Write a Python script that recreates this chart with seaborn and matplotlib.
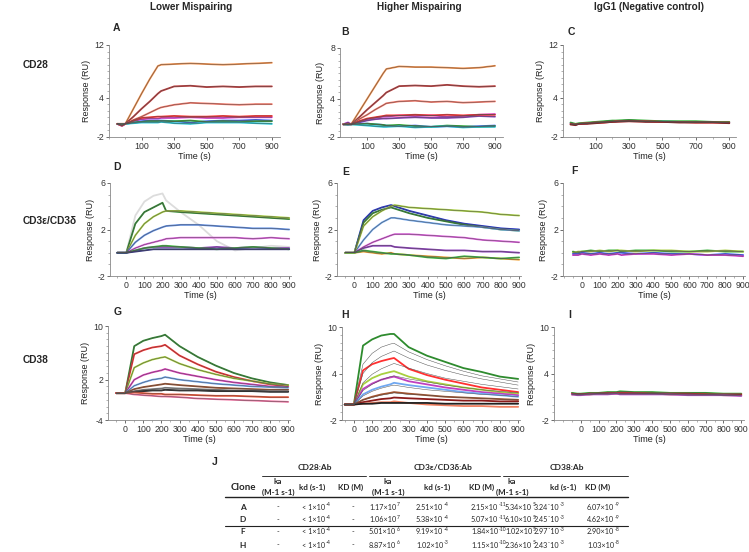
import pandas as pd
import matplotlib.pyplot as plt
import seaborn as sns
from matplotlib.ticker import MultipleLocator
from matplotlib.lines import Line2D

# ---- sensorgram data (RU) ----
TIME = [-50, -20, 0, 50, 100, 150, 200, 220, 300, 400, 500, 600, 700, 800, 900]

# A: CD28, lower mispairing
A_TRACES = [
    [0, 0, 0, 2.3, 4.6, 6.8, 8.8, 9.0, 9.1, 9.2, 9.1, 9.0, 9.1, 9.2, 9.3],
    [0, 0, 0, 1.1, 2.3, 3.4, 4.6, 5.0, 5.7, 5.8, 5.6, 5.7, 5.6, 5.7, 5.7],
    [0, 0, 0, 0.6, 1.1, 1.7, 2.3, 2.5, 2.9, 3.2, 3.1, 3.0, 2.9, 3.0, 3.0],
    [0, -0.2, 0, 0.4, 0.7, 0.8, 0.8, 0.9, 0.9, 1.0, 0.9, 0.9, 1.0, 1.0, 1.0],
    [0, -0.3, 0, 0.2, 0.4, 0.5, 0.5, 0.5, 0.4, 0.2, 0.4, 0.5, 0.5, 0.6, 0.5],
    [0, -0.1, 0, 0.2, 0.3, 0.4, 0.4, 0.4, 0.4, 0.5, 0.3, 0.4, 0.3, 0.4, 0.4],
    [0, -0.2, 0, 0.1, 0.2, 0.2, 0.2, 0.3, 0.1, 0.0, 0.2, 0.2, 0.2, 0.1, 0.0],
    [0, -0.3, 0, 0.5, 0.9, 1.0, 1.1, 1.1, 1.2, 1.1, 1.1, 1.2, 1.1, 1.2, 1.2],
]
A_COLORS = ["#f4904a", "#c03a3a", "#f87868", "#e040e0", "#4060ff", "#30b030", "#20c8d8", "#ff3030"]

# B: CD28, higher mispairing (drawn on the A scale, as in the source)
B_TRACES = [
    [0, 0, 0, 2.0, 4.0, 6.0, 8.0, 8.7, 9.1, 9.0, 9.0, 8.9, 8.8, 8.9, 9.2],
    [0, 0, 0, 1.1, 2.3, 3.4, 4.5, 5.0, 6.0, 6.1, 6.0, 6.2, 6.0, 5.9, 6.0],
    [0, 0, 0, 0.8, 1.5, 2.3, 3.0, 3.3, 3.6, 3.7, 3.5, 3.6, 3.4, 3.5, 3.6],
    [0, 0.3, 0, 0.4, 0.8, 1.0, 1.2, 1.2, 1.4, 1.3, 1.4, 1.2, 1.3, 1.5, 1.6],
    [0, 0.2, 0, 0.3, 0.6, 0.8, 0.9, 0.9, 1.0, 1.1, 1.0, 1.0, 1.1, 1.3, 1.2],
    [0, 0, 0, 0.1, 0.1, 0.0, -0.1, -0.2, -0.3, -0.2, -0.4, -0.3, -0.4, -0.3, -0.2],
    [0, 0, 0, 0.0, 0.1, 0.0, -0.1, -0.2, -0.1, -0.3, -0.4, -0.2, -0.3, -0.4, -0.3],
    [0, -0.1, 0, -0.1, -0.2, -0.3, -0.4, -0.4, -0.3, -0.5, -0.4, -0.3, -0.5, -0.4, -0.4],
    [0, 0, 0, 0.5, 0.9, 1.1, 1.3, 1.4, 1.4, 1.5, 1.4, 1.5, 1.4, 1.5, 1.5],
]
B_COLORS = ["#f4904a", "#c03a3a", "#f87868", "#e040e0", "#9040c0", "#4060ff", "#30b030", "#20c8d8", "#ff3030"]

# C: CD28, IgG1 control
C_TRACES = [
    [0.1, -0.1, 0, 0.1, 0.2, 0.3, 0.4, 0.4, 0.5, 0.4, 0.4, 0.3, 0.3, 0.3, 0.2],
    [0.2, 0.0, 0.1, 0.2, 0.3, 0.4, 0.5, 0.5, 0.6, 0.5, 0.4, 0.4, 0.4, 0.3, 0.3],
    [0.0, -0.1, 0, 0.1, 0.2, 0.2, 0.3, 0.4, 0.4, 0.4, 0.3, 0.3, 0.2, 0.2, 0.2],
    [-0.1, -0.2, 0, 0.0, 0.1, 0.2, 0.3, 0.3, 0.4, 0.3, 0.3, 0.2, 0.2, 0.2, 0.1],
]
C_COLORS = ["#4060ff", "#30b030", "#ff3030", "#8b1a1a"]

# D: CD3e/CD3d, lower mispairing
D_TRACES = [
    [0, 0, 0, 3.2, 4.4, 4.9, 5.1, 4.5, 3.5, 2.4, 1.0, 0.2, 0.4, 0.6, 0.5],
    [0, 0, 0, 2.5, 3.5, 3.9, 4.3, 3.6, 3.5, 3.4, 3.3, 3.2, 3.1, 3.0, 2.9],
    [0, 0, 0, 1.5, 2.5, 3.1, 3.5, 3.6, 3.6, 3.5, 3.4, 3.3, 3.2, 3.1, 3.0],
    [0, 0, 0, 0.9, 1.5, 1.9, 2.2, 2.3, 2.4, 2.4, 2.3, 2.2, 2.1, 2.1, 2.0],
    [0, 0, 0, 0.4, 0.7, 0.9, 1.1, 1.2, 1.3, 1.3, 1.3, 1.3, 1.2, 1.3, 1.2],
    [0, 0, 0, 0.2, 0.4, 0.5, 0.5, 0.5, 0.5, 0.4, 0.5, 0.4, 0.5, 0.4, 0.4],
    [0, 0, 0, 0.2, 0.4, 0.5, 0.6, 0.6, 0.5, 0.4, 0.3, 0.4, 0.5, 0.4, 0.3],
    [0, 0, 0, 0.1, 0.2, 0.3, 0.3, 0.3, 0.3, 0.3, 0.3, 0.3, 0.3, 0.3, 0.3],
]
D_COLORS = ["#dcdcdc", "#2e8b2e", "#a8d040", "#6090e8", "#e060e0", "#9040c0", "#40c040", "#303080"]

# E: CD3e/CD3d, higher mispairing
E_TRACES = [
    [0, 0, 0, 2.8, 3.6, 3.9, 4.1, 4.0, 3.6, 3.2, 2.8, 2.5, 2.3, 2.1, 2.0],
    [0, 0, 0, 2.6, 3.4, 3.7, 3.9, 3.8, 3.4, 3.0, 2.7, 2.4, 2.2, 2.0, 1.9],
    [0, 0, 0, 1.1, 2.0, 2.6, 3.0, 3.0, 2.8, 2.6, 2.4, 2.3, 2.2, 2.0, 1.9],
    [0, 0, 0, 2.3, 3.1, 3.6, 4.0, 4.1, 3.9, 3.8, 3.7, 3.6, 3.5, 3.3, 3.2],
    [0, 0, 0, 0.5, 0.9, 1.2, 1.5, 1.6, 1.6, 1.5, 1.4, 1.3, 1.1, 1.0, 0.9],
    [0, 0, 0, 0.4, 0.6, 0.6, 0.6, 0.5, 0.4, 0.3, 0.2, 0.2, 0.1, 0.1, 0.0],
    [0, 0, 0, 0.1, 0.0, -0.1, 0.0, -0.1, -0.2, -0.3, -0.4, -0.5, -0.4, -0.5, -0.6],
    [0, 0, 0, 0.2, 0.1, 0.0, -0.1, -0.1, -0.2, -0.4, -0.5, -0.3, -0.4, -0.5, -0.4],
]
E_COLORS = ["#2030d0", "#2e8b2e", "#70a8f0", "#a8d040", "#e060e0", "#9040c0", "#f0a030", "#40c040"]

# F: CD3e/CD3d, IgG1 control
F_TRACES = [
    [0.1, 0.0, 0.1, 0.2, 0.1, 0.2, 0.2, 0.1, 0.2, 0.2, 0.1, 0.1, 0.2, 0.1, 0.1],
    [0.0, 0.1, 0.1, 0.1, 0.2, 0.1, 0.2, 0.2, 0.1, 0.2, 0.2, 0.1, 0.1, 0.2, 0.1],
    [-0.1, -0.1, 0.0, -0.1, 0.0, -0.1, 0.0, 0.0, -0.1, 0.0, -0.1, -0.1, -0.2, -0.1, -0.2],
    [-0.2, -0.2, -0.1, -0.2, -0.1, -0.2, -0.1, -0.2, -0.1, -0.1, -0.2, -0.1, -0.2, -0.2, -0.3],
]
F_COLORS = ["#30b030", "#a8d040", "#4060ff", "#e040e0"]

# G: CD38, lower mispairing
G_TRACES = [
    [0, 0, 0, 7.0, 7.8, 8.2, 8.5, 8.7, 7.0, 5.4, 4.1, 3.0, 2.2, 1.6, 1.2],
    [0, 0, 0, 5.8, 6.4, 6.8, 7.0, 7.2, 5.6, 4.3, 3.2, 2.4, 1.8, 1.3, 1.0],
    [0, 0, 0, 3.8, 4.5, 5.0, 5.3, 5.4, 4.4, 3.5, 2.8, 2.2, 1.8, 1.4, 1.2],
    [0, 0, 0, 2.0, 2.7, 3.1, 3.4, 3.6, 3.0, 2.5, 2.0, 1.6, 1.3, 1.0, 0.9],
    [0, 0, 0, 1.1, 1.6, 2.0, 2.2, 2.4, 2.0, 1.7, 1.4, 1.2, 1.0, 0.9, 0.8],
    [0, 0, 0, 0.6, 0.9, 1.1, 1.3, 1.4, 1.2, 1.0, 0.8, 0.7, 0.6, 0.5, 0.5],
    [0, 0, 0, 0.3, 0.5, 0.6, 0.7, 0.8, 0.7, 0.6, 0.5, 0.4, 0.4, 0.3, 0.3],
    [0, 0, 0, 0.2, 0.3, 0.4, 0.4, 0.5, 0.4, 0.4, 0.3, 0.3, 0.3, 0.2, 0.2],
    [0, 0, 0, -0.2, -0.3, -0.4, -0.5, -0.5, -0.6, -0.8, -0.9, -1.0, -1.1, -1.2, -1.3],
    [0, 0, 0, 0.1, 0.0, -0.1, -0.1, -0.2, -0.2, -0.3, -0.4, -0.4, -0.5, -0.6, -0.6],
]
G_COLORS = ["#2e8b2e", "#ff3030", "#a8d040", "#e040c0", "#70a8f0", "#a0522d",
            "#909090", "#202020", "#f070a0", "#f05030"]

# H: CD38, higher mispairing
H_TRACES = [
    [0, 0, 0, 7.6, 8.4, 8.9, 9.1, 9.1, 7.4, 6.3, 5.5, 4.7, 4.2, 3.6, 3.3],
    [0, 0, 0, 4.4, 5.2, 5.6, 5.9, 6.0, 4.6, 3.8, 3.2, 2.7, 2.2, 1.9, 1.6],
    [0, 0, 0, 2.6, 3.4, 3.9, 4.2, 4.3, 3.6, 3.0, 2.6, 2.2, 1.9, 1.6, 1.4],
    [0, 0, 0, 2.0, 2.7, 3.2, 3.5, 3.6, 3.0, 2.6, 2.2, 1.9, 1.6, 1.4, 1.2],
    [0, 0, 0, 1.3, 1.9, 2.3, 2.6, 2.8, 2.5, 2.2, 1.9, 1.6, 1.4, 1.2, 1.0],
    [0, 0, 0, 0.6, 1.0, 1.3, 1.5, 1.6, 1.4, 1.2, 1.0, 0.9, 0.8, 0.7, 0.6],
    [0, 0, 0, 0.3, 0.5, 0.7, 0.8, 0.9, 0.8, 0.7, 0.6, 0.5, 0.5, 0.4, 0.4],
    [0, 0, 0, 0.1, 0.2, 0.3, 0.3, 0.4, 0.2, 0.0, -0.1, -0.2, -0.2, -0.3, -0.3],
    [0, 0, 0, 0.1, 0.1, 0.2, 0.2, 0.2, 0.2, 0.2, 0.1, 0.1, 0.1, 0.1, 0.1],
]
H_COLORS = ["#2e8b2e", "#ff3030", "#a8d040", "#c040c0", "#70a8f0", "#a0522d",
            "#8b1a1a", "#f08060", "#202020"]
H_FITS = [
    [0, 0, 0, 5.2, 6.6, 7.4, 7.8, 7.9, 6.8, 5.8, 5.0, 4.3, 3.7, 3.3, 2.9],
    [0, 0, 0, 4.0, 5.4, 6.2, 6.7, 6.9, 6.0, 5.1, 4.4, 3.8, 3.3, 2.9, 2.5],
    [0, 0, 0, 2.8, 3.9, 4.6, 5.1, 5.3, 4.7, 4.0, 3.4, 3.0, 2.6, 2.3, 2.0],
    [0, 0, 0, 1.8, 2.6, 3.2, 3.6, 3.7, 3.3, 2.9, 2.5, 2.2, 1.9, 1.7, 1.5],
    [0, 0, 0, 1.1, 1.7, 2.1, 2.4, 2.5, 2.2, 1.9, 1.7, 1.5, 1.3, 1.2, 1.0],
    [0, 0, 0, 0.6, 0.9, 1.2, 1.4, 1.5, 1.3, 1.2, 1.0, 0.9, 0.8, 0.7, 0.6],
]

# I: CD38, IgG1 control
I_TRACES = [
    [1.5, 1.4, 1.4, 1.5, 1.5, 1.6, 1.6, 1.7, 1.6, 1.6, 1.5, 1.5, 1.5, 1.4, 1.4],
    [1.4, 1.3, 1.3, 1.4, 1.4, 1.5, 1.5, 1.5, 1.5, 1.4, 1.4, 1.4, 1.3, 1.3, 1.3],
    [1.3, 1.3, 1.3, 1.3, 1.4, 1.4, 1.4, 1.4, 1.4, 1.4, 1.3, 1.3, 1.3, 1.2, 1.2],
    [1.3, 1.2, 1.2, 1.3, 1.3, 1.3, 1.4, 1.3, 1.3, 1.3, 1.3, 1.2, 1.2, 1.2, 1.1],
]
I_COLORS = ["#30b030", "#ff3030", "#8b1a1a", "#c050d0"]

# ---- kinetics table ("^" marks the exponent) ----
CLONES = ["A", "D", "F", "H"]
CD28_KA = ["-", "-", "-", "-"]
CD28_KD = ["< 1×10^-4"] * 4
CD28_KDM = ["-", "-", "-", "-"]
CD3_KA = ["1.17×10^7", "1.06×10^7", "5.01×10^6", "8.87×10^6"]
CD3_KD = ["2.51×10^-4", "5.38×10^-4", "9.19×10^-4", "1.02×10^-3"]
CD3_KDM = ["2.15×10^-11", "5.07×10^-11", "1.84×10^-10", "1.15×10^-10"]
CD38_KA = ["5.34×10^5", "6.10×10^5", "1.02×10^5", "2.36×10^5"]
CD38_KD = ["3.24´10^-3", "2.45´10^-3", "2.97´10^-3", "2.43´10^-3"]
CD38_KDM = ["6.07×10^-9", "4.62×10^-9", "2.90×10^-8", "1.03×10^-8"]
GROUPS = ["CD28:Ab", "CD3ε/CD3δ:Ab", "CD38:Ab"]

# ---- style ----
sns.set_style("ticks")
plt.rcParams["font.family"] = ["Liberation Sans", "DejaVu Sans"]

W, H = 749, 552
fig = plt.figure(figsize=(W / 100, H / 100), dpi=100)


def px_axes(l, t, r, b):
    return fig.add_axes([l / W, 1 - b / H, (r - l) / W, (b - t) / H])


def draw_panel(box, traces, colors, xlim, ylim, yticks, ylabels, xticks, fits=None):
    ax = px_axes(*box)
    rows = []
    for i, ys in enumerate(traces):
        for t, y in zip(TIME, ys):
            rows.append((t, y, f"c{i}"))
    df = pd.DataFrame(rows, columns=["time", "resp", "curve"])
    pal = {f"c{i}": c for i, c in enumerate(colors)}
    sns.lineplot(data=df, x="time", y="resp", hue="curve", palette=pal,
                 legend=False, lw=1.3, estimator=None, ax=ax)
    for ys in (traces if fits is None else fits):
        ax.plot(TIME, ys, color="#505050", lw=0.35)
    ax.set_xlim(*xlim)
    ax.set_ylim(*ylim)
    ax.set_yticks(yticks)
    ax.set_yticklabels(ylabels)
    ax.set_xticks(xticks)
    ax.xaxis.set_minor_locator(MultipleLocator(100 if xticks[0] == 100 else 50))
    ax.yaxis.set_minor_locator(MultipleLocator(1))
    ax.tick_params(labelsize=6.3, colors="#333333", length=2, width=0.5, pad=1.5)
    ax.tick_params(which="minor", length=1.2, width=0.4, colors="#777777")
    ax.set_xlabel("Time (s)", fontsize=6.5, color="#222222", labelpad=1)
    ax.set_ylabel("Response (RU)", fontsize=6.5, color="#222222", labelpad=2)
    sns.despine(ax=ax)
    for s in ("left", "bottom"):
        ax.spines[s].set_color("#888888")
        ax.spines[s].set_linewidth(0.6)
    return ax


X_ODD = [100, 300, 500, 700, 900]
X_ALL = [0, 100, 200, 300, 400, 500, 600, 700, 800, 900]

draw_panel((109, 45, 280, 137), A_TRACES, A_COLORS, (-100, 950), (-2, 12), [-2, 4, 12], ["-2", "4", "12"], X_ODD)
draw_panel((340, 48, 503, 137), B_TRACES, B_COLORS, (-70, 950), (-2, 12), [-2, 4, 12], ["-2", "4", "8"], X_ODD)
draw_panel((563, 45, 736, 137), C_TRACES, C_COLORS, (-95, 940), (-2, 12), [-2, 4, 12], ["-2", "4", "12"], X_ODD)
draw_panel((110, 183, 291, 276), D_TRACES, D_COLORS, (-90, 910), (-2, 6), [-2, 2, 6], ["-2", "2", "6"], X_ALL,
           fits=D_TRACES[1:])
draw_panel((337, 183, 521, 276), E_TRACES, E_COLORS, (-95, 910), (-2, 6), [-2, 2, 6], ["-2", "2", "6"], X_ALL)
draw_panel((563, 183, 745, 276), F_TRACES, F_COLORS, (-105, 910), (-2, 6), [-2, 2, 6], ["-2", "2", "6"], X_ALL)
draw_panel((108, 326, 290, 420), G_TRACES, G_COLORS, (-95, 910), (-4, 10), [-4, 2, 10], ["-4", "2", "10"], X_ALL)
draw_panel((342, 327, 520, 420), H_TRACES, H_COLORS, (-65, 910), (-2, 10), [-2, 4, 10], ["-2", "4", "10"], X_ALL,
           fits=H_FITS)
draw_panel((554, 327, 744, 420), I_TRACES, I_COLORS, (-150, 915), (-2, 10), [-2, 4, 10], ["-2", "4", "10"], X_ALL)

# ---- overlay for labels and the table (pixel coordinates) ----
ov = fig.add_axes([0, 0, 1, 1], zorder=-1)
ov.set_xlim(0, W)
ov.set_ylim(H, 0)
ov.axis("off")

for x, s in [(191, "Lower Mispairing"), (419, "Higher Mispairing"), (649, "IgG1 (Negative control)")]:
    ov.text(x, 7, s, ha="center", va="center", fontsize=7.2, fontweight="bold")
for y, s in [(65, "CD28"), (221, "CD3ε/CD3δ"), (360, "CD38")]:
    ov.text(23, y, s, ha="left", va="center", fontsize=7.3, fontweight="bold")
for x, y, s in [(113, 28, "A"), (341, 32, "B"), (568, 32, "C"), (113, 167, "D"), (342, 172, "E"),
                (571, 171, "F"), (114, 312, "G"), (341, 315, "H"), (568, 315, "I"), (212, 462, "J")]:
    ov.text(x, y, s, ha="left", va="center", fontsize=7.5, fontweight="bold")

TF = ["Lato", "DejaVu Sans"]
HEAD_X = [278, 312, 351, 388, 437, 482, 512, 563, 598]
VAL_X = [278, 302, 353, 369, 416, 471, 505, 534, 587]   # centre for "-", left edge otherwise
ROW_Y = [507, 520, 532, 545]
VAL_FS = 5.2

for x, s in zip([315, 443, 567], GROUPS):
    ov.text(x, 468, s, ha="center", va="center", fontsize=6, fontweight="bold", family=TF)
for x0, x1 in [(262, 366), (369, 500), (503, 628)]:
    ov.add_line(Line2D([x0, x1], [476, 476], color="#333333", lw=0.7))
ov.text(243, 488, "Clone", ha="center", va="center", fontsize=7, fontweight="bold", family=TF)
for i, x in enumerate(HEAD_X):
    kind = i % 3
    if kind == 0:
        ov.text(x, 481.5, "ka", ha="center", va="center", fontsize=5.8, fontweight="bold", family=TF)
        ov.text(x, 492, "(M-1 s-1)", ha="center", va="center", fontsize=5.8, fontweight="bold", family=TF)
    elif kind == 1:
        ov.text(x, 487, "kd (s-1)", ha="center", va="center", fontsize=5.8, fontweight="bold", family=TF)
    else:
        ov.text(x, 487, "KD (M)", ha="center", va="center", fontsize=5.8, fontweight="bold", family=TF)
ov.add_line(Line2D([225, 628], [497, 497], color="#222222", lw=1.0))
ov.add_line(Line2D([225, 628], [526, 526], color="#222222", lw=0.8))

renderer = fig.canvas.get_renderer()
to_px = ov.transData.inverted()


def value_text(x, y, s):
    if s == "-":
        ov.text(x, y, s, ha="center", va="center", fontsize=VAL_FS, family=TF)
        return
    base, _, expo = s.partition("^")
    t = ov.text(x, y, base, ha="left", va="center", fontsize=VAL_FS, family=TF)
    bb = t.get_window_extent(renderer)
    right = to_px.transform((bb.x1, bb.y0))[0]
    ov.text(right + 0.2, y - 2.5, expo, ha="left", va="center", fontsize=3.6, family=TF)


columns = [CD28_KA, CD28_KD, CD28_KDM, CD3_KA, CD3_KD, CD3_KDM, CD38_KA, CD38_KD, CD38_KDM]
for r, (clone, y) in enumerate(zip(CLONES, ROW_Y)):
    ov.text(243, y, clone, ha="center", va="center", fontsize=6, fontweight="bold", family=TF)
    for x, col in zip(VAL_X, columns):
        value_text(x, y, col[r])

fig.savefig("out.png", dpi=100)
